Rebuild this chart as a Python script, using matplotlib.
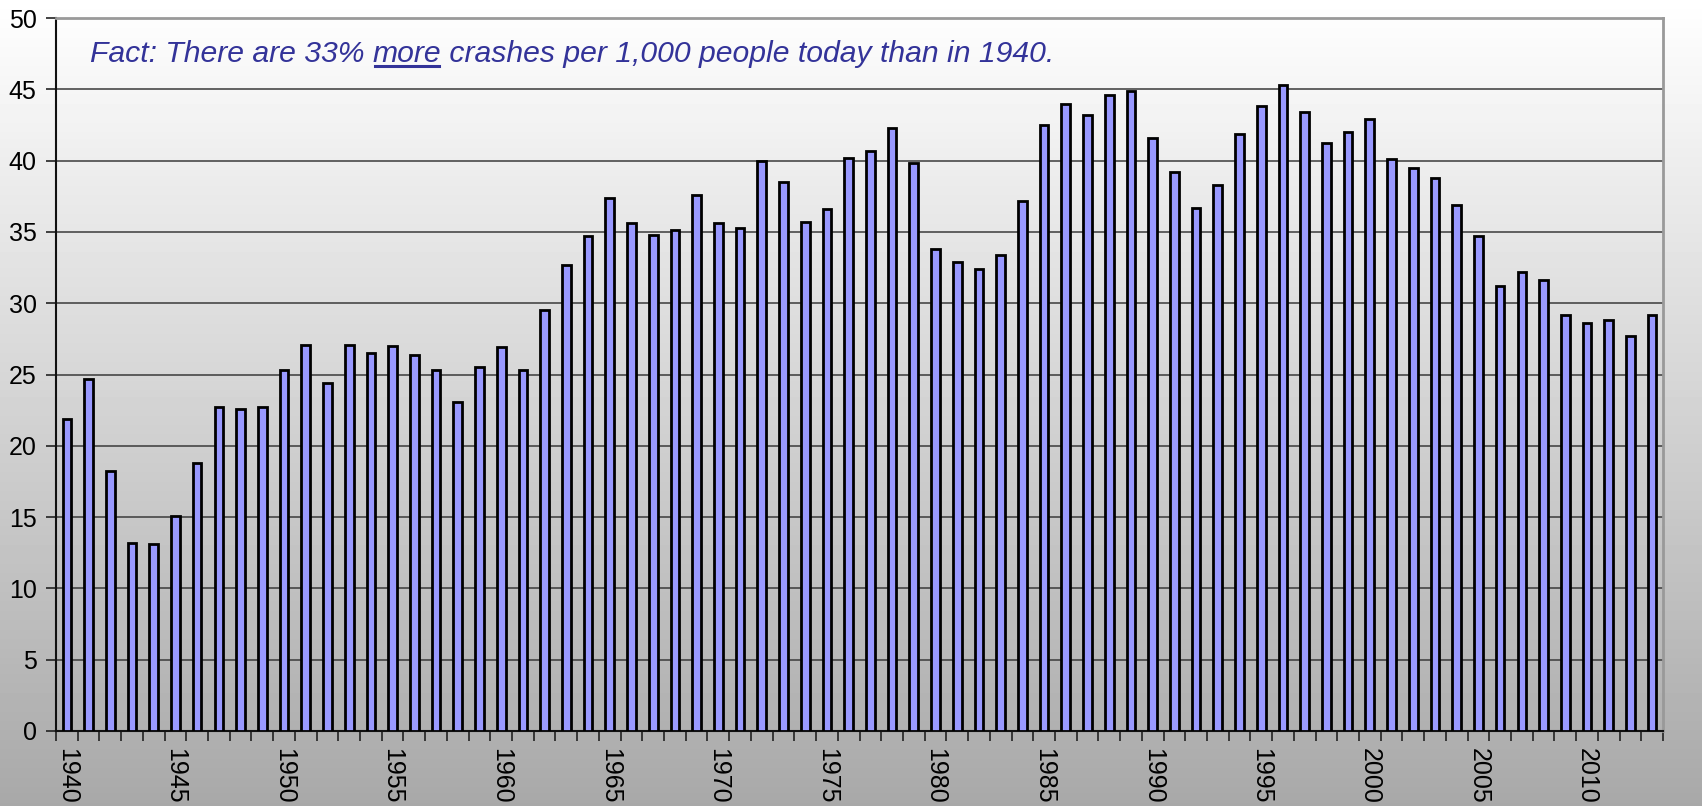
import numpy as np
import matplotlib
matplotlib.use("Agg")
import matplotlib.pyplot as plt
from matplotlib.lines import Line2D

plt.rcParams['font.family'] = ['Liberation Sans', 'DejaVu Sans']

# crashes per 1,000 people, 1940-2013
years = list(range(1940, 2014))
crashes = [21.9, 24.7, 18.2, 13.2, 13.1, 15.1, 18.8, 22.7, 22.6, 22.7,
           25.3, 27.1, 24.4, 27.1, 26.5, 27.0, 26.4, 25.3, 23.1, 25.5,
           26.9, 25.3, 29.5, 32.7, 34.7, 37.4, 35.6, 34.8, 35.1, 37.6,
           35.6, 35.3, 40.0, 38.5, 35.7, 36.6, 40.2, 40.7, 42.3, 39.8,
           33.8, 32.9, 32.4, 33.4, 37.2, 42.5, 44.0, 43.2, 44.6, 44.9,
           41.6, 39.2, 36.7, 38.3, 41.9, 43.8, 45.3, 43.4, 41.2, 42.0,
           42.9, 40.1, 39.5, 38.8, 36.9, 34.7, 31.2, 32.2, 31.6, 29.2,
           28.6, 28.8, 27.7, 29.2]
label_years = list(range(1940, 2014, 5))

note_before = "Fact: There are 33% "
note_under = "more"
note_after = " crashes per 1,000 people today than in 1940."

fig = plt.figure(figsize=(17.02, 8.06), dpi=100)

# gradient background over the whole figure
bg = fig.add_axes([0, 0, 1, 1], zorder=-10)
grad = np.linspace(1.0, 0.66, 256).reshape(-1, 1)
bg.imshow(grad, aspect='auto', cmap='gray', vmin=0, vmax=1, extent=[0, 1, 0, 1])
bg.axis('off')

ax = fig.add_axes([56 / 1702, 75 / 806, 1607 / 1702, 713 / 806])
ax.set_facecolor('none')

x = np.arange(len(years))
ax.bar(x, crashes, width=0.4, color='#9999ff', edgecolor='black', linewidth=2.0, zorder=3)

ax.set_xlim(-0.5, len(years) - 0.5)
ax.set_ylim(0, 50)
ax.set_yticks(range(0, 51, 5))
ax.yaxis.grid(True, color='#3a3a3a', linewidth=1.1, zorder=0)
ax.set_axisbelow(True)

ax.set_xticks([years.index(y) for y in label_years])
ax.set_xticklabels([str(y) for y in label_years], rotation=270, fontsize=18)
ax.set_xticks(np.arange(-0.5, len(years)), minor=True)
ax.tick_params(axis='x', which='major', length=0, pad=12)
ax.tick_params(axis='x', which='minor', length=7, width=1.2, color='#222222')
ax.tick_params(axis='y', length=7, width=1.2, labelsize=18, pad=7, color='#222222')

for side in ['top', 'right']:
    ax.spines[side].set_color('#999999')
    ax.spines[side].set_linewidth(2)
for side in ['left', 'bottom']:
    ax.spines[side].set_color('#111111')
    ax.spines[side].set_linewidth(1.5)

# note with underlined word
style = dict(fontsize=21.7, style='italic', color='#333399')
t1 = ax.text(0.021, 46.9, note_before, va='baseline', ha='left',
             transform=ax.get_yaxis_transform(), **style)
t2 = ax.annotate(note_under, xy=(1, 0), xycoords=t1, va='bottom', ha='left', **style)
t3 = ax.annotate(note_after, xy=(1, 0), xycoords=t2, va='bottom', ha='left', **style)

fig.canvas.draw()
bb2 = t2.get_window_extent()
inv = fig.transFigure.inverted()
base_px = ax.transData.transform((0, 46.9))[1]
(x0, yl), (x1, _) = inv.transform([(bb2.x0 + 2, base_px - 4), (bb2.x1 - 2, base_px - 4)])
fig.add_artist(Line2D([x0, x1], [yl, yl], color='#333399', linewidth=2.2))

fig.savefig('out.png', dpi=100)
